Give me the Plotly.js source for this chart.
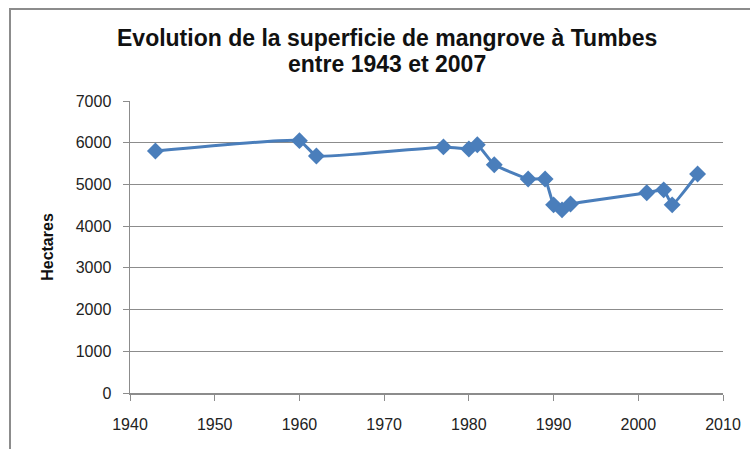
<!DOCTYPE html>
<html>
<head>
<meta charset="utf-8">
<script src="https://cdn.plot.ly/plotly-3.0.1.min.js"></script>
<style>
  html, body { margin: 0; padding: 0; background: #fff; }
  #wrap { position: relative; width: 750px; height: 449px; overflow: hidden; }
  #frame { position: absolute; left: 9px; top: 8px; width: 760px; height: 460px; border: 2px solid #8c8c8c; box-sizing: border-box; pointer-events: none; }
  #chart { position: absolute; left: 0; top: 0; width: 750px; height: 449px; }
</style>
</head>
<body>
<div id="wrap">
  <div id="chart"></div>
  <div id="frame"></div>
</div>
<script>
const years = [1943, 1960, 1962, 1977, 1980, 1981, 1983, 1987, 1989, 1990, 1991, 1992, 2001, 2003, 2004, 2007];
const hectares = [5800, 6050, 5680, 5900, 5850, 5950, 5470, 5130, 5130, 4510, 4390, 4530, 4800, 4870, 4510, 5250];
const xTicks = [1940, 1950, 1960, 1970, 1980, 1990, 2000, 2010];
const yTicks = [0, 1000, 2000, 3000, 4000, 5000, 6000, 7000];
const titleLines = ['Evolution de la superficie de mangrove à Tumbes', 'entre 1943 et 2007'];

const trace = {
  x: years,
  y: hectares,
  type: 'scatter',
  mode: 'lines+markers',
  line: { color: '#4a7ebb', width: 3, shape: 'spline', smoothing: 0.3 },
  marker: { symbol: 'diamond', size: 13, color: '#4a7ebb' },
  hoverinfo: 'x+y'
};

const tickFont = { family: 'Liberation Sans, Arial, sans-serif', size: 16, color: '#222' };
const titleFont = { family: 'Liberation Sans, Arial, sans-serif', size: 23, color: '#111' };

const layout = {
  width: 750,
  height: 449,
  margin: { l: 130, r: 27, t: 101, b: 56 },
  paper_bgcolor: '#ffffff',
  plot_bgcolor: '#ffffff',
  showlegend: false,
  annotations: [
    { text: '<b>' + titleLines[0] + '</b>', xref: 'paper', yref: 'paper', x: 0.4334, y: 1.2158,
      xanchor: 'center', yanchor: 'middle', showarrow: false, font: titleFont },
    { text: '<b>' + titleLines[1] + '</b>', xref: 'paper', yref: 'paper', x: 0.4334, y: 1.1267,
      xanchor: 'center', yanchor: 'middle', showarrow: false, font: titleFont }
  ],
  xaxis: {
    range: [1940, 2010],
    tickvals: xTicks,
    ticktext: xTicks.map(String),
    ticks: 'outside',
    ticklen: 6,
    tickcolor: '#8c8c8c',
    tickwidth: 1,
    showgrid: false,
    zeroline: false,
    showline: true,
    linecolor: '#8c8c8c',
    linewidth: 1.5,
    tickfont: tickFont,
    ticklabelstandoff: 10,
    fixedrange: true
  },
  yaxis: {
    range: [0, 7000],
    tickvals: yTicks,
    ticktext: yTicks.map(String),
    ticks: 'outside',
    ticklen: 6,
    tickcolor: '#8c8c8c',
    tickwidth: 1,
    showgrid: true,
    gridcolor: '#8c8c8c',
    gridwidth: 1.2,
    zeroline: false,
    showline: true,
    linecolor: '#8c8c8c',
    linewidth: 1.5,
    tickfont: tickFont,
    ticklabelstandoff: 8,
    title: {
      text: '<b>Hectares</b>',
      font: { family: 'Liberation Sans, Arial, sans-serif', size: 16, color: '#111' },
      standoff: 18
    },
    fixedrange: true
  }
};

Plotly.newPlot('chart', [trace], layout, { displayModeBar: false, staticPlot: true });
</script>
</body>
</html>
